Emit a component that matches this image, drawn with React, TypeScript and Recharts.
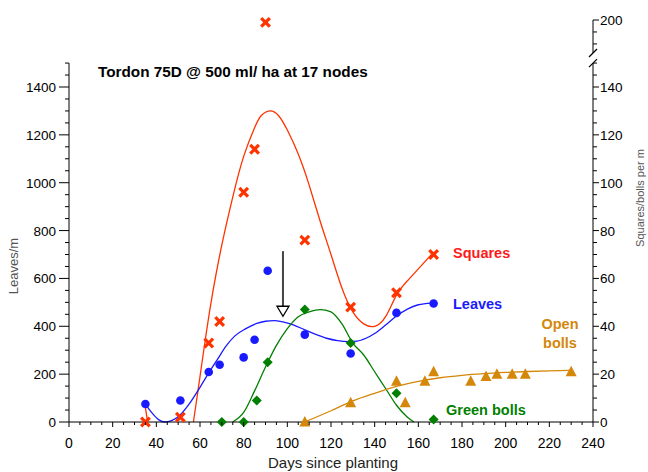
import React from 'react';
import {
  ComposedChart,
  Line,
  Scatter,
  XAxis,
  YAxis,
  ReferenceLine,
  ReferenceDot,
} from 'recharts';

// observed points: [day, value]
const leavesObs = [
  [35, 75], [51, 90], [64, 209], [69, 239], [80, 270], [85, 344],
  [91, 632], [108, 365], [129, 286], [150, 456], [167, 495],
];
const squaresObs = [
  [35, 0], [51, 2], [64, 33], [69, 42], [80, 96], [85, 114],
  [90, 199], [108, 76], [129, 48], [150, 54], [167, 70],
];
const greenObs = [
  [70, 0], [80, 0], [86, 9], [91, 25], [108, 47], [129, 33], [150, 12], [167, 1],
];
const openObs = [
  [108, 0], [129, 8], [150, 17], [154, 8], [163, 17], [167, 21],
  [184, 17], [191, 19], [196, 20], [203, 20], [209, 20], [230, 21],
];

// fitted curves
const leavesFit = [
  [35, 75], [38, 38], [41, 10], [44, 0], [47, 6], [50, 22], [55, 75], [60, 145],
  [64, 205], [68, 262], [72, 318], [76, 360], [81, 390], [86, 412], [90, 421],
  [94, 424], [98, 418], [103, 405], [108, 385], [113, 366], [118, 350], [123, 340],
  [128, 336], [132, 338], [136, 350], [140, 370], [145, 405], [150, 443],
  [155, 472], [160, 490], [166, 497],
];
const squaresFit = [
  [35, 6], [36, 0], [46, null], [57, 0], [60, 19], [63, 38], [66, 55], [70, 74],
  [75, 94], [80, 111], [85, 123], [88, 128], [92, 130], [96, 128], [100, 122],
  [105, 112], [110, 99], [115, 84], [120, 70], [125, 56], [130, 46], [135, 41],
  [140, 40], [145, 44], [150, 53], [155, 59], [160, 64], [167, 71],
];
const greenFit = [
  [75, 0], [80, 4], [85, 13], [90, 23], [95, 32], [100, 39], [105, 44],
  [110, 46], [115, 47], [120, 46], [125, 41], [130, 33], [135, 28], [140, 21],
  [145, 14], [150, 7], [155, 2], [158, 0],
];
const openFit = [
  [108, 0], [120, 4.7], [130, 8.8], [140, 12], [150, 14.9], [160, 17],
  [170, 18.5], [180, 19.5], [190, 20.2], [200, 20.7], [210, 21.1],
  [220, 21.4], [230, 21.6],
];

const xTicks = Array.from({ length: 49 }, (_, i) => i * 5);
const leftTicks = Array.from({ length: 31 }, (_, i) => i * 50);
// right axis is broken: values above 150 are shifted down by BREAK_SHIFT
const BREAK_SHIFT = 32;
const rightTicks = [...Array.from({ length: 31 }, (_, i) => i * 5), 158, 163, 168];

const toRight = (v: number | null) => (v == null ? null : v > 150 ? v - BREAK_SHIFT : v);
const rows = (pts: (number | null)[][], right = false) =>
  pts.map(([d, v]) => ({ d, v: right ? toRight(v) : v }));

const FONT = '"Liberation Sans", Arial, sans-serif';
const RED = '#ff3300';
const BLUE = '#1a1aff';
const GREEN = '#007f00';
const ORANGE = '#d4870a';

const XTick = ({ x, y, payload }: any) => {
  const v = payload.value;
  const major = v % 20 === 0;
  return (
    <g>
      <line x1={x} x2={x} y1={y} y2={y + (major ? 5 : 3)} stroke="#000" />
      {major && (
        <text x={x} y={y + 26} textAnchor="middle" fontSize={14} fontFamily={FONT} fill="#000">
          {v}
        </text>
      )}
    </g>
  );
};

const LeftTick = ({ x, y, payload }: any) => {
  const v = payload.value;
  const major = v % 200 === 0;
  return (
    <g>
      <line x1={x} x2={x - (major ? 10 : 4)} y1={y} y2={y} stroke="#000" />
      {major && (
        <text x={x - 13} y={y + 5} textAnchor="end" fontSize={13.5} fontFamily={FONT} fill="#000">
          {v}
        </text>
      )}
    </g>
  );
};

const RightTick = ({ x, y, payload }: any) => {
  const t = payload.value;
  const v = t > 150 ? t + BREAK_SHIFT : t;
  const major = v % 20 === 0;
  return (
    <g>
      <line x1={x} x2={x + (major ? 6 : 4)} y1={y} y2={y} stroke="#000" />
      {major && (
        <text x={x + 7} y={y + 5} textAnchor="start" fontSize={13.5} fontFamily={FONT} fill="#000">
          {v}
        </text>
      )}
    </g>
  );
};

const XMark = ({ cx, cy }: any) => (
  <g stroke={RED} strokeWidth={3.2}>
    <line x1={cx - 4.3} y1={cy - 4.3} x2={cx + 4.3} y2={cy + 4.3} />
    <line x1={cx - 4.3} y1={cy + 4.3} x2={cx + 4.3} y2={cy - 4.3} />
  </g>
);
const Dot = ({ cx, cy }: any) => <circle cx={cx} cy={cy} r={4.3} fill={BLUE} />;
const Diamond = ({ cx, cy }: any) => (
  <polygon points={`${cx},${cy - 5} ${cx + 5},${cy} ${cx},${cy + 5} ${cx - 5},${cy}`} fill={GREEN} />
);
const Tri = ({ cx, cy }: any) => (
  <polygon points={`${cx},${cy - 6} ${cx + 5.5},${cy + 4.5} ${cx - 5.5},${cy + 4.5}`} fill={ORANGE} />
);

const Arrow = ({ x1, y1, x2, y2 }: any) => (
  <g>
    <line x1={x1} y1={y1} x2={x2} y2={y2 - 10} stroke="#444" strokeWidth={2} />
    <polygon points={`${x2 - 6},${y2 - 10} ${x2 + 6},${y2 - 10} ${x2},${y2}`} fill="#fff" stroke="#000" strokeWidth={1.3} />
  </g>
);

const Slash = ({ cx, cy }: any) => (
  <line x1={cx - 4} y1={cy + 4} x2={cx + 4} y2={cy - 4} stroke="#000" strokeWidth={1.2} />
);

export default function App() {
  return (
    <div style={{ position: 'absolute', left: 0, top: 0, background: '#fff' }}>
      <ComposedChart width={648} height={472} margin={{ top: 20, right: 0, bottom: 0, left: 0 }}>
        <XAxis
          type="number"
          dataKey="d"
          domain={[0, 240]}
          ticks={xTicks}
          interval={0}
          height={50}
          tickSize={0}
          tickMargin={0}
          tickLine={false}
          tick={<XTick />}
          axisLine={{ stroke: '#000' }}
        />
        <YAxis
          yAxisId="left"
          dataKey="v"
          domain={[0, 1680]}
          ticks={leftTicks}
          interval={0}
          width={69}
          tickSize={0}
          tickMargin={0}
          tickLine={false}
          tick={<LeftTick />}
          axisLine={false}
        />
        <YAxis
          yAxisId="right"
          orientation="right"
          dataKey="v"
          domain={[0, 168]}
          ticks={rightTicks}
          interval={0}
          width={55}
          tickSize={0}
          tickMargin={0}
          tickLine={false}
          tick={<RightTick />}
          axisLine={false}
        />

        <ReferenceLine yAxisId="left" segment={[{ x: 0, y: 0 }, { x: 0, y: 1500 }]} stroke="#000" />
        <ReferenceLine yAxisId="right" segment={[{ x: 240, y: 0 }, { x: 240, y: 150 }]} stroke="#000" />
        <ReferenceLine yAxisId="right" segment={[{ x: 240, y: 154.2 }, { x: 240, y: 168 }]} stroke="#000" />
        <ReferenceDot yAxisId="right" x={240} y={150} r={0} shape={<Slash />} />
        <ReferenceDot yAxisId="right" x={240} y={154.2} r={0} shape={<Slash />} />

        <Line yAxisId="right" data={rows(squaresFit, true)} dataKey="v" type="natural" stroke={RED} strokeWidth={1.3} dot={false} activeDot={false} connectNulls={false} isAnimationActive={false} />
        <Line yAxisId="left" data={rows(leavesFit)} dataKey="v" type="monotone" stroke={BLUE} strokeWidth={1.3} dot={false} activeDot={false} isAnimationActive={false} />
        <Line yAxisId="right" data={rows(greenFit, true)} dataKey="v" type="monotone" stroke={GREEN} strokeWidth={1.3} dot={false} activeDot={false} isAnimationActive={false} />
        <Line yAxisId="right" data={rows(openFit, true)} dataKey="v" type="monotone" stroke={ORANGE} strokeWidth={1.3} dot={false} activeDot={false} isAnimationActive={false} />

        <Scatter yAxisId="right" data={rows(squaresObs, true)} dataKey="v" shape={<XMark />} isAnimationActive={false} />
        <Scatter yAxisId="left" data={rows(leavesObs)} dataKey="v" shape={<Dot />} isAnimationActive={false} />
        <Scatter yAxisId="right" data={rows(greenObs, true)} dataKey="v" shape={<Diamond />} isAnimationActive={false} />
        <Scatter yAxisId="right" data={rows(openObs, true)} dataKey="v" shape={<Tri />} isAnimationActive={false} />

        <ReferenceLine yAxisId="left" segment={[{ x: 98, y: 714 }, { x: 98, y: 442 }]} shape={<Arrow />} />

        <text x={98} y={77} fontSize={15.3} fontWeight="bold" fontFamily={FONT} fill="#000">
          Tordon 75D @ 500 ml/ ha at 17 nodes
        </text>
        <text x={453} y={258} fontSize={14.5} fontWeight="bold" fontFamily={FONT} fill="#ff1a1a">Squares</text>
        <text x={453} y={309} fontSize={14.5} fontWeight="bold" fontFamily={FONT} fill={BLUE}>Leaves</text>
        <text x={560} y={329} textAnchor="middle" fontSize={14.5} fontWeight="bold" fontFamily={FONT} fill={ORANGE}>Open</text>
        <text x={560} y={348} textAnchor="middle" fontSize={14.5} fontWeight="bold" fontFamily={FONT} fill={ORANGE}>bolls</text>
        <text x={446} y={415} fontSize={14.5} fontWeight="bold" fontFamily={FONT} fill={GREEN}>Green bolls</text>

        <text x={333} y={468} textAnchor="middle" fontSize={15} fontFamily={FONT} fill="#222">Days since planting</text>
        <text x={18} y={266} transform="rotate(-90 18 266)" textAnchor="middle" fontSize={13} fontFamily={FONT} fill="#555">Leaves/m</text>
        <text x={644} y={198} transform="rotate(-90 644 198)" textAnchor="middle" fontSize={11} fontFamily={FONT} fill="#555">Squares/bolls per m</text>
      </ComposedChart>
    </div>
  );
}
